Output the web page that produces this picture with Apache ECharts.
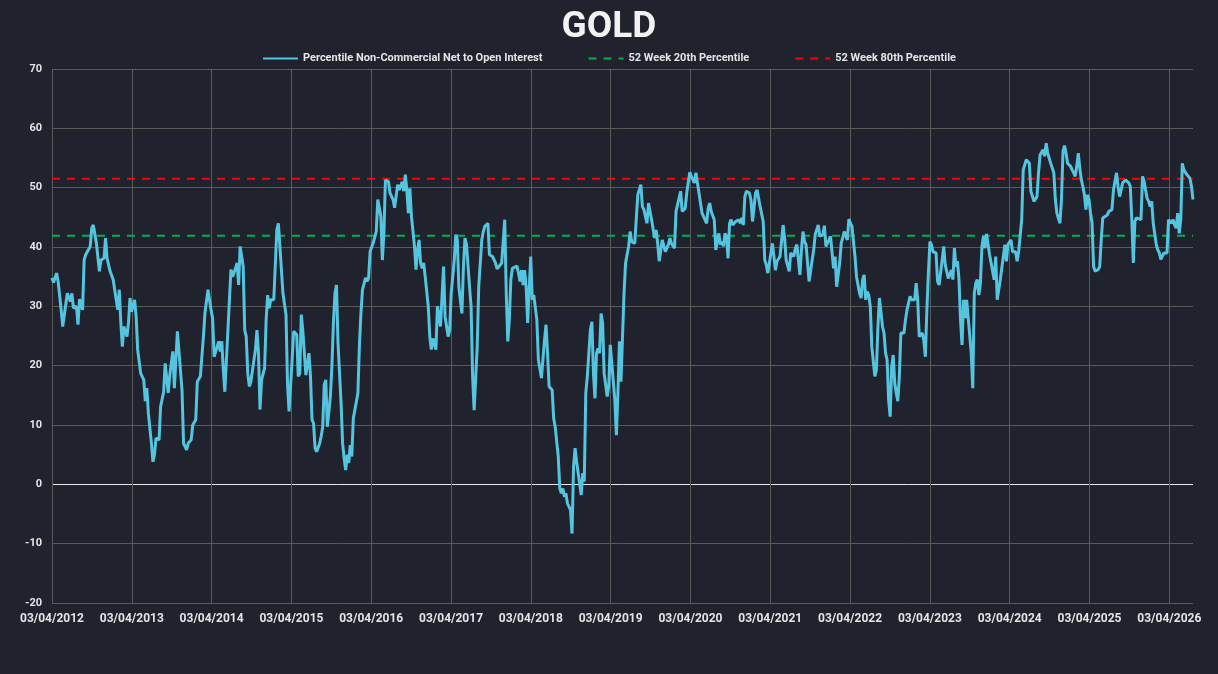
<!DOCTYPE html>
<html>
<head>
<meta charset="utf-8">
<title>GOLD</title>
<script src="https://cdn.jsdelivr.net/npm/echarts@6/dist/echarts.min.js"></script>
<style>
    html, body { margin: 0; padding: 0; background: #20232e; }
    #main { width: 1218px; height: 674px; }
</style>
</head>
<body>
<div id="main"></div>
<script>
// 起始日期 03/04/2012, 之后按周计数
const startDate = '2012-03-04'

// 周序号 (从起始日期算起)
const weekNo = [
    0, 1, 3, 4, 5, 6, 7, 8, 9, 10, 12, 13, 14, 16, 17, 18, 20, 21, 22, 25, 26, 27, 29, 31, 32, 34, 35, 36, 37, 38,
    40, 41, 42, 43, 44, 45, 46, 47, 49, 50, 51, 52, 53, 54, 55, 56, 58, 60, 61, 62, 63, 65, 66, 67, 68, 70, 71, 73, 74, 75,
    76, 77, 79, 80, 82, 85, 86, 88, 89, 91, 92, 94, 95, 97, 99, 100, 101, 102, 104, 105, 106, 107, 109, 110, 111, 112, 113, 114, 117, 118,
    120, 121, 122, 123, 125, 126, 127, 128, 129, 130, 131, 133, 134, 135, 136, 137, 139, 140, 141, 142, 143, 145, 147, 148, 149, 151, 153, 154, 155, 156,
    157, 158, 159, 160, 161, 162, 163, 164, 165, 166, 167, 168, 169, 170, 171, 172, 173, 175, 176, 177, 178, 179, 180, 182, 183, 184, 185, 186, 187, 189,
    190, 191, 192, 193, 194, 195, 196, 197, 198, 200, 201, 202, 203, 205, 206, 207, 208, 210, 212, 213, 214, 215, 216, 217, 218, 220, 221, 223, 224, 225,
    226, 227, 228, 229, 230, 231, 232, 233, 234, 235, 237, 238, 239, 240, 241, 242, 243, 244, 246, 247, 248, 249, 251, 252, 254, 255, 256, 257, 259, 260,
    261, 263, 264, 265, 266, 268, 269, 270, 271, 273, 274, 275, 276, 277, 278, 279, 281, 282, 283, 285, 286, 288, 290, 291, 292, 294, 296, 297, 298, 299,
    300, 301, 304, 305, 306, 307, 308, 309, 310, 311, 313, 314, 315, 316, 317, 318, 319, 320, 321, 322, 323, 324, 325, 327, 328, 329, 331, 332, 333, 334,
    335, 336, 337, 339, 340, 341, 342, 343, 344, 346, 347, 348, 349, 350, 352, 353, 354, 355, 356, 357, 358, 359, 360, 361, 363, 364, 365, 366, 368, 369,
    370, 371, 372, 373, 374, 375, 377, 378, 379, 381, 383, 385, 386, 387, 389, 390, 392, 393, 394, 395, 396, 397, 399, 400, 401, 403, 404, 405, 407, 408,
    409, 411, 412, 414, 415, 417, 418, 419, 420, 421, 422, 424, 425, 426, 428, 429, 430, 431, 433, 434, 436, 437, 438, 439, 440, 441, 442, 443, 444, 445,
    447, 449, 450, 451, 452, 453, 454, 456, 457, 458, 460, 461, 462, 463, 465, 466, 467, 468, 469, 471, 472, 473, 474, 476, 478, 479, 480, 482, 483, 485,
    486, 487, 489, 490, 491, 492, 493, 495, 497, 498, 499, 500, 501, 502, 504, 505, 506, 508, 509, 510, 511, 512, 513, 515, 516, 518, 519, 520, 521, 522,
    523, 525, 526, 528, 529, 530, 531, 532, 533, 534, 535, 536, 538, 539, 540, 541, 542, 543, 544, 545, 546, 547, 548, 549, 550, 551, 552, 553, 554, 555,
    556, 557, 558, 559, 561, 562, 564, 565, 566, 567, 569, 570, 571, 572, 573, 574, 575, 576, 577, 578, 579, 580, 582, 583, 584, 585, 586, 588, 589, 590,
    591, 592, 593, 594, 595, 596, 597, 598, 600, 601, 602, 603, 604, 605, 606, 607, 608, 609, 610, 611, 613, 614, 616, 617, 618, 620, 621, 623, 624, 625,
    627, 628, 629, 630, 631, 632, 634, 635, 636, 637, 639, 640, 641, 642, 644, 645, 646, 648, 649, 650, 651, 652, 653, 655, 656, 657, 659, 660, 661, 662,
    663, 664, 666, 667, 668, 669, 670, 671, 672, 673, 674, 675, 676, 677, 678, 679, 680, 681, 682, 684, 685, 686, 687, 688, 690, 691, 692, 693, 694, 695,
    696, 697, 698, 699, 700, 702, 703, 704, 705, 706, 707, 708, 709, 710, 712, 713, 714, 715, 716, 717, 718, 719, 720, 722, 723, 724, 725, 727, 728, 729,
    730, 731, 732, 733, 734, 735, 736, 737, 738, 739, 740, 741, 742, 743, 744, 745, 746
]

// Percentile Non-Commercial Net to Open Interest
const netPercentile = [
    34.8, 34.0, 35.6, 34.2, 34.2, 29.4, 26.6, 26.3, 30.3, 32.2, 30.8, 32.2, 29.7, 30.0, 26.9, 31.2, 29.4, 37.8, 38.7, 40.1, 43.2, 43.7, 40.7, 35.9, 37.8, 38.1, 41.5, 38.1, 37.8, 35.9,
    34.5, 32.8, 32.8, 29.4, 32.8, 27.2, 23.2, 26.6, 24.9, 27.2, 31.4, 29.1, 28.9, 31.1, 28.3, 22.7, 18.7, 17.6, 14.0, 16.2, 12.0, 6.9, 3.8, 5.0, 7.8, 7.5, 13.1, 15.6, 20.4, 20.1,
    15.4, 18.4, 22.4, 16.2, 25.8, 15.9, 6.9, 5.8, 6.9, 7.5, 10.0, 10.9, 17.3, 18.2, 24.9, 28.9, 29.1, 32.8, 29.4, 28.0, 21.5, 21.8, 24.1, 22.4, 24.1, 19.3, 15.6, 15.9, 36.2, 35.0,
    36.4, 37.3, 33.6, 40.1, 36.7, 26.0, 24.9, 18.7, 16.5, 17.3, 17.6, 22.7, 26.0, 22.1, 12.6, 17.6, 19.6, 27.7, 31.9, 29.7, 31.1, 31.1, 42.9, 44.0, 40.1, 32.2, 28.6, 16.8, 12.3, 12.6,
    21.0, 25.8, 25.5, 25.2, 18.2, 18.7, 28.6, 25.8, 26.0, 18.4, 18.2, 22.1, 18.2, 10.9, 10.3, 6.1, 5.5, 6.9, 8.1, 9.7, 16.8, 17.6, 9.7, 14.8, 19.9, 27.2, 32.2, 33.6, 23.8, 13.7,
    6.9, 4.4, 2.4, 5.0, 3.6, 6.6, 4.7, 11.1, 11.4, 15.4, 23.5, 28.9, 32.8, 34.8, 34.2, 34.8, 39.3, 40.7, 42.6, 48.0, 46.6, 45.2, 37.8, 42.4, 51.3, 51.0, 49.1, 48.0, 46.6, 46.3,
    50.5, 49.6, 49.6, 51.0, 49.4, 52.2, 49.6, 45.7, 49.9, 45.2, 40.1, 36.2, 39.5, 41.2, 37.3, 36.4, 37.3, 35.0, 30.0, 24.9, 22.7, 24.6, 22.7, 30.0, 26.6, 26.3, 36.7, 28.3, 24.9, 26.0,
    32.2, 37.8, 42.1, 41.2, 33.3, 28.8, 36.7, 41.5, 40.4, 33.3, 30.0, 18.2, 12.5, 12.3, 23.2, 33.3, 41.2, 42.6, 43.5, 44.0, 38.7, 38.4, 37.3, 36.3, 36.4, 37.3, 44.6, 32.2, 24.1, 27.7,
    34.5, 36.4, 36.8, 35.6, 34.2, 36.1, 33.6, 36.1, 33.3, 27.2, 38.4, 31.1, 31.9, 31.7, 27.7, 21.0, 21.3, 17.9, 17.9, 24.3, 26.9, 22.1, 16.5, 15.9, 11.1, 9.7, 4.7, -0.7, -1.5, -0.7,
    -2.1, -1.5, -3.2, -4.3, -8.3, 3.0, 6.1, 3.8, 4.1, -1.8, 1.9, 0.5, 15.4, 18.2, 26.0, 27.4, 18.7, 14.5, 22.1, 22.9, 22.1, 28.8, 27.2, 18.7, 14.8, 16.5, 23.5, 23.5, 14.2, 8.3,
    15.4, 24.1, 17.3, 17.3, 32.2, 37.3, 40.1, 42.6, 40.9, 40.6, 48.8, 50.5, 46.8, 46.3, 44.0, 47.4, 44.6, 44.3, 41.5, 42.9, 40.6, 37.6, 41.2, 41.2, 39.2, 40.4, 41.5, 40.6, 39.8, 46.0,
    46.3, 49.4, 46.0, 46.5, 49.1, 52.6, 51.9, 52.2, 50.8, 52.5, 50.8, 47.4, 45.7, 46.0, 44.0, 46.5, 47.4, 46.0, 44.6, 39.5, 42.3, 40.4, 40.9, 40.1, 42.3, 41.8, 38.1, 44.0, 44.6, 43.7,
    44.3, 44.6, 44.0, 44.9, 43.7, 48.5, 49.4, 49.1, 47.9, 44.3, 49.1, 49.6, 49.6, 46.8, 44.3, 37.8, 37.0, 35.6, 35.6, 40.6, 38.4, 36.1, 37.6, 38.4, 43.7, 41.5, 37.8, 35.9, 39.0, 38.4,
    39.8, 40.4, 35.3, 39.5, 42.6, 40.9, 40.4, 34.2, 37.8, 39.5, 42.1, 42.3, 43.7, 41.8, 42.1, 43.6, 40.1, 41.2, 41.8, 42.1, 36.4, 38.4, 33.3, 37.3, 40.6, 42.6, 42.6, 41.2, 44.7, 44.0,
    43.5, 38.4, 35.0, 32.2, 31.4, 34.5, 35.3, 31.1, 32.5, 31.9, 30.0, 23.2, 18.2, 19.3, 26.6, 31.4, 31.1, 26.6, 25.5, 22.1, 21.0, 14.2, 11.4, 19.8, 21.8, 17.0, 15.4, 14.0, 18.2, 25.5,
    25.8, 25.5, 27.7, 29.4, 31.7, 31.1, 31.1, 33.9, 31.1, 24.9, 25.5, 24.3, 21.5, 29.4, 35.6, 40.9, 40.4, 39.2, 39.2, 39.0, 34.2, 33.6, 37.8, 40.1, 37.0, 37.0, 34.7, 36.1, 34.5, 39.8,
    36.7, 37.6, 34.5, 27.7, 23.5, 31.1, 28.0, 31.1, 25.2, 22.1, 16.2, 32.2, 33.9, 34.5, 31.9, 33.9, 40.1, 41.8, 39.8, 42.2, 38.7, 37.3, 34.5, 38.4, 31.1, 34.5, 34.5, 40.4, 37.6, 40.4,
    41.2, 39.2, 39.2, 39.2, 37.6, 39.2, 44.6, 53.0, 53.3, 54.7, 54.1, 49.4, 49.4, 47.7, 48.5, 52.5, 55.5, 56.4, 55.3, 57.5, 55.8, 56.1, 54.1, 52.5, 48.0, 45.7, 44.0, 48.0, 56.1, 57.1,
    55.8, 54.1, 53.6, 53.0, 52.5, 51.9, 53.6, 55.8, 53.3, 51.3, 50.2, 48.8, 46.3, 48.8, 48.0, 45.7, 44.0, 36.7, 35.9, 36.2, 36.7, 41.2, 44.9, 45.2, 45.4, 46.0, 46.0, 46.3, 49.6, 51.1,
    52.5, 50.2, 48.5, 48.2, 50.8, 51.3, 51.6, 50.8, 50.2, 44.6, 37.3, 44.3, 44.9, 44.9, 44.6, 51.9, 51.1, 49.6, 48.2, 47.7, 46.8, 47.7, 44.0, 40.4, 39.5, 39.0, 37.9, 39.0, 39.2, 39.0,
    44.6, 44.9, 44.0, 44.6, 43.7, 43.2, 45.7, 42.3, 44.6, 54.1, 53.0, 53.3, 52.2, 52.5, 51.6, 50.2, 48.0
]

// 52周分位线
const pct20 = 41.9
const pct80 = 51.5

// 坐标轴刻度
const yTicks = [-20, -10, 0, 10, 20, 30, 40, 50, 60, 70]
const labelDay = '03/04/'
const firstYear = 2012

const goldChart = {

    init() {
        let main = document.getElementById('main')
        let myChart = echarts.init(main, null, { renderer: 'canvas' })
        myChart.setOption(this.createOption())
    },

    createOption() {
        // x 用距起始日期的天数, 刻度每年一格
        const yearDays = 365.25
        const points = weekNo.map((w, i) => [w * 7, netPercentile[i]])
        const lastDay = weekNo[weekNo.length - 1] * 7

        const fontFamily = 'Roboto, "Liberation Sans", sans-serif'
        const gridColor = '#5a5a5a'
        const textColor = '#e4e4e4'

        // 竖线颜色, 最后一条 (max) 不画
        const xLineCount = Math.floor(lastDay / yearDays) + 2
        const xLineColors = []
        for (let i = 0; i < xLineCount; i++) {
            xLineColors.push(i === xLineCount - 1 ? 'rgba(0,0,0,0)' : gridColor)
        }
        // 横线颜色, 0 的那条是白色
        const yLineColors = yTicks.map(t => t === 0 ? '#e8e8e8' : gridColor)

        return {
            backgroundColor: '#20232e',
            animation: false,
            textStyle: { fontFamily: fontFamily },
            title: {
                text: 'GOLD',
                left: 'center',
                top: 4,
                textStyle: {
                    color: '#f2f2f2',
                    fontSize: 37,
                    fontWeight: 'bold',
                    fontFamily: fontFamily
                }
            },
            legend: {
                top: 48,
                left: 'center',
                itemWidth: 35,
                itemHeight: 10,
                itemGap: 45,
                // 图例里不要圆点
                itemStyle: { opacity: 0 },
                textStyle: {
                    color: textColor,
                    fontSize: 11,
                    fontWeight: 'bold',
                    fontFamily: fontFamily
                },
                data: [
                    'Percentile Non-Commercial Net to Open Interest',
                    '52 Week 20th Percentile',
                    '52 Week 80th Percentile'
                ]
            },
            grid: {
                left: 52,
                right: 25,
                top: 69,
                bottom: 71
            },
            xAxis: {
                type: 'value',
                min: 0,
                max: lastDay,
                interval: yearDays,
                axisLine: { show: false, onZero: false },
                axisTick: { show: false },
                axisLabel: {
                    color: textColor,
                    fontSize: 12,
                    fontWeight: 'bold',
                    margin: 10,
                    showMaxLabel: false,
                    formatter: v => labelDay + (firstYear + Math.round(v / yearDays))
                },
                splitLine: {
                    show: true,
                    lineStyle: { color: xLineColors, width: 1 }
                }
            },
            yAxis: {
                type: 'value',
                min: yTicks[0],
                max: yTicks[yTicks.length - 1],
                interval: 10,
                axisLine: { show: false },
                axisTick: { show: false },
                axisLabel: {
                    color: textColor,
                    fontSize: 11,
                    fontWeight: 'bold',
                    margin: 10
                },
                splitLine: {
                    show: true,
                    lineStyle: { color: yLineColors, width: 1 }
                }
            },
            series: [
                {
                    name: 'Percentile Non-Commercial Net to Open Interest',
                    type: 'line',
                    data: points,
                    symbol: 'none',
                    showSymbol: false,
                    lineStyle: { color: '#55c4df', width: 3 },
                    itemStyle: { color: '#55c4df' },
                    z: 3
                },
                {
                    name: '52 Week 20th Percentile',
                    type: 'line',
                    data: [[0, pct20], [lastDay, pct20]],
                    symbol: 'none',
                    lineStyle: { color: '#00b050', width: 2, type: [8, 7] },
                    itemStyle: { color: '#00b050' },
                    z: 2
                },
                {
                    name: '52 Week 80th Percentile',
                    type: 'line',
                    data: [[0, pct80], [lastDay, pct80]],
                    symbol: 'none',
                    lineStyle: { color: '#ff0000', width: 2, type: [8, 7] },
                    itemStyle: { color: '#ff0000' },
                    z: 2
                }
            ]
        }
    }
}

goldChart.init()
</script>
</body>
</html>
